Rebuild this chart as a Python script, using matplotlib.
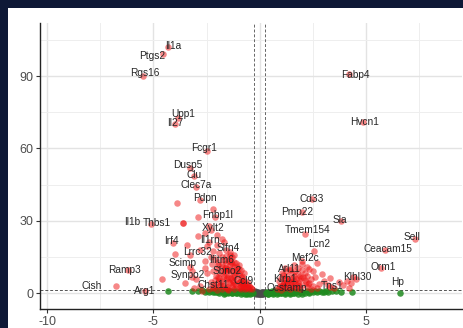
import matplotlib
matplotlib.use("Agg")
import matplotlib.pyplot as plt
from matplotlib.patches import Rectangle
from matplotlib.ticker import MultipleLocator

plt.rcParams["font.family"] = ["Liberation Sans", "DejaVu Sans"]

# ---------------- data ----------------
genes = ["Il1a", "Ptgs2", "Rgs16", "Upp1", "Il27", "Fcgr1", "Dusp5", "Clu", "Clec7a",
         "Pdpn", "Fnbp1l", "Xylt2", "Il1b", "Thbs1", "Irf4", "Il1rn", "Slfn4", "Lrrc32",
         "Scimp", "Ifitm6", "Ramp3", "Cish", "Arg1", "Synpo2", "Sbno2", "Ccl9", "Chst11",
         "Fabp4", "Hvcn1", "Cd33", "Pmp22", "Sla", "Tmem154", "Lcn2", "Sell", "Ceacam15",
         "Orm1", "Klhl30", "Hp", "Mef2c", "Arl11", "Klrb1", "Ocstamp", "Tns1"]
gene_fc = [-4.3, -4.55, -5.5, -3.85, -4.0, -2.5, -3.3, -3.1, -3.0,
           -2.8, -2.1, -2.3, -5.1, -3.6, -4.1, -2.4, -1.6, -3.3,
           -3.3, -1.8, -6.2, -6.75, -5.4, -3.2, -1.6, -0.8, -2.2,
           4.2, 4.85, 2.45, 2.0, 3.8, 2.1, 2.55, 7.3, 5.9,
           5.7, 4.53, 6.6, 2.0, 1.4, 1.2, 1.2, 3.3]
gene_p = [102, 99, 90, 72.5, 70, 59, 52, 48.5, 44,
          38.5, 31.5, 26, 28.5, 29, 20.7, 21, 18, 16,
          11, 12, 9.5, 2.9, 0.8, 6.5, 9.5, 5, 3.3,
          90.9, 71, 39, 33.5, 30, 24.5, 17.4, 22.5, 18,
          10.5, 5.8, 0.1, 13.5, 9.5, 6.2, 2.5, 2.5]
gene_sig = [1, 1, 1, 1, 1, 1, 1, 1, 1,
            1, 1, 1, 1, 1, 1, 1, 1, 1,
            1, 1, 1, 1, 1, 1, 1, 1, 1,
            1, 1, 1, 1, 1, 1, 1, 1, 1,
            1, 1, 0, 1, 1, 1, 1, 1]
# label placement (layout)
lab_x = [-4.06, -5.05, -5.42, -3.58, -3.96, -2.6, -3.4, -3.1, -2.97,
         -2.6, -1.98, -2.2, -6.0, -4.86, -4.15, -2.36, -1.5, -2.95,
         -3.65, -1.8, -6.37, -7.9, -5.42, -3.4, -1.55, -0.75, -2.2,
         4.48, 4.9, 2.45, 1.75, 3.77, 2.26, 2.78, 7.17, 6.04,
         5.8, 4.58, 6.46, 2.1, 1.4, 1.2, 1.25, 3.4]
lab_y = [102.5, 98.3, 91.3, 74.3, 70.5, 60.2, 53.1, 49, 44.8,
         39.4, 32.4, 27, 29.5, 29, 21.6, 22, 18.7, 16.9,
         12.4, 13.6, 9.5, 2.9, 0.8, 7.5, 9.0, 5, 3.3,
         90.5, 71, 39, 33.6, 30.3, 26.1, 20.3, 23.2, 18.3,
         10.8, 6.6, 4.6, 14.5, 10.0, 5.9, 2.2, 2.9]

red_fc = [-2.4, -2.2, -2.0, -1.9, -1.8, -1.7, -1.6, -1.5, -1.4, -1.3, -1.2, -1.1, -1.0, -0.9, -0.8, -0.7, -0.6, -0.5, -0.4, -0.35,
          -2.3, -2.1, -2.0, -1.9, -1.8, -1.7, -1.6, -1.5, -1.4, -1.3, -1.2, -1.1, -1.0, -0.9, -0.8, -0.7, -0.6, -0.5,
          -2.5, -2.2, -2.0, -1.9, -1.8, -1.7, -1.6, -1.5, -1.4, -1.3, -1.2, -1.1, -1.0, -0.9, -0.8, -0.7,
          -2.6, -2.3, -2.1, -1.9, -1.8, -1.6, -1.5, -1.4, -1.3, -1.2, -1.0, -0.9,
          -2.8, -2.5, -2.2, -2.0, -1.7, -1.4, -1.2,
          -2.9, -2.6, -2.4, -2.0, -1.8,
          -3.0, -2.8, -2.6, -3.2, -3.5, -3.1, -2.7, -3.9, -4.6, -3.6, -4.0, -2.9, -3.4, -2.2,
          -1.75, -1.45, -1.15, -0.85, -1.95, -1.65, -1.35, -1.05,
          -2.15, -1.85, -1.55, -1.25, -0.95, -0.65, -2.05, -1.75, -1.45, -1.15, -0.85, -0.55,
          -1.95, -1.65, -1.35, -1.05, -0.75, -1.85, -1.55, -1.25, -0.95, -1.7, -1.4, -1.1,
          -2.25, -1.95, -1.6, -1.3, -1.0, -0.75, -0.45, -1.5, -1.2, -0.9,
          0.8, 0.9, 1.0, 1.1, 1.2, 1.3, 1.4, 1.5, 1.6, 1.7, 1.8, 1.9, 2.0, 2.1, 2.2, 2.3, 2.4, 2.5, 2.6, 2.7,
          0.9, 1.0, 1.1, 1.2, 1.3, 1.4, 1.5, 1.6, 1.7, 1.8, 1.9, 2.0, 2.1, 2.2, 2.3, 2.4,
          1.2, 1.4, 1.6, 1.8, 2.0, 2.2, 2.5, 2.7, 2.9, 3.0, 3.2, 3.5, 3.3, 2.8,
          3.9, 4.1, 4.3, 4.4, 4.2, 3.7,
          1.05, 1.25, 1.45, 1.65, 1.85, 1.15, 1.35, 1.55,
          0.95, 1.15, 1.35, 1.55, 1.75, 1.95, 2.15, 1.05, 1.25, 1.45, 1.65, 1.85, 2.05, 2.25]
red_p = [1.5, 2.0, 1.2, 2.8, 1.6, 3.5, 2.2, 1.4, 4.0, 2.6, 1.8, 3.2, 2.1, 1.5, 2.9, 1.7, 2.4, 1.6, 2.0, 1.5,
         4.5, 5.5, 4.0, 6.2, 5.0, 7.0, 5.8, 6.8, 8.0, 5.5, 7.5, 6.0, 4.8, 5.2, 4.2, 3.8, 3.2, 2.8,
         8.5, 9.0, 10.5, 8.8, 11.0, 9.5, 12.5, 10.0, 11.8, 9.0, 10.8, 8.5, 7.8, 6.8, 6.0, 5.2,
         13.5, 15.0, 14.0, 16.5, 14.8, 15.5, 13.2, 14.2, 12.0, 13.0, 11.5, 9.5,
         18.0, 19.5, 17.5, 20.0, 21.0, 17.0, 16.0,
         23.5, 25.0, 28.0, 24.0, 22.5,
         6.0, 3.0, 10.5, 9.0, 4.0, 2.0, 1.0, 37.3, 5.8, 29.0, 16.2, 31.5, 20.0, 35.0,
         3.0, 4.5, 3.6, 3.8, 6.5, 8.8, 6.4, 9.2,
         2.4, 3.3, 2.5, 3.4, 2.6, 2.2, 7.2, 7.9, 9.4, 9.6, 7.0, 4.0,
         11.8, 10.6, 12.8, 11.0, 8.4, 5.2, 6.1, 4.9, 4.6, 13.8, 16.0, 12.4,
         12.0, 13.0, 10.2, 15.0, 9.8, 3.0, 2.4, 1.8, 6.6, 2.4,
         1.5, 2.5, 1.2, 3.5, 2.0, 4.5, 1.8, 3.0, 5.0, 2.2, 4.0, 1.6, 3.2, 5.5, 2.5, 4.2, 1.9, 3.0, 6.5, 2.0,
         5.0, 6.2, 7.5, 5.8, 7.0, 6.0, 8.5, 7.2, 6.0, 8.0, 7.0, 9.5, 8.2, 7.0, 10.0, 6.0,
         10.5, 9.8, 11.5, 10.5, 12.0, 11.0, 9.0, 12.5, 8.0, 5.0, 3.5, 2.0, 6.2, 3.8,
         3.5, 5.2, 4.0, 6.8, 2.3, 4.5,
         2.8, 3.9, 4.8, 3.6, 5.6, 4.3, 5.1, 2.6,
         3.0, 4.2, 2.6, 6.4, 3.4, 6.2, 4.6, 8.2, 9.0, 4.0, 9.2, 2.8, 6.8, 3.6]

green_fc = [-4.3, -3.2, -2.9, -2.7, -2.6, -2.5, -2.4, -2.3, -2.2, -2.15, -2.1, -2.05, -2.0, -1.95, -1.9, -1.85,
            -1.8, -1.75, -1.7, -1.65, -1.6, -1.55, -1.5, -1.45, -1.4, -1.35, -1.3, -1.25, -1.2, -1.15, -1.1,
            -1.05, -1.0, -0.95, -0.9, -0.85, -0.8, -0.75, -0.7, -0.65, -0.6, -0.55, -0.5, -0.45, -0.4,
            -0.35, -0.3, -1.7, -1.3, -0.9, -0.6, -1.5, -1.1, -0.7, -0.45,
            0.3, 0.35, 0.4, 0.45, 0.5, 0.55, 0.6, 0.65, 0.7, 0.75, 0.8, 0.85, 0.9, 0.95, 1.0, 1.05,
            1.1, 1.15, 1.2, 1.25, 1.3, 1.35, 1.4, 1.45, 1.5, 1.55, 1.6, 1.7, 1.8, 1.9, 2.0, 2.1,
            2.2, 2.3, 2.4, 2.5, 2.6, 2.7, 2.8, 2.9, 3.0, 3.1, 3.2, 3.4, 3.6, 3.8, 4.35,
            0.4, 0.6, 0.8, 1.0, 1.2, 1.4, 1.6, 1.8, 2.0, 2.3]
green_p = [0.8, 0.9, 0.7, 1.1, 0.5, 0.9, 0.6, 1.0, 0.4, 0.8, 0.3, 1.1, 0.6, 0.9, 0.2, 0.7,
           1.0, 0.4, 0.8, 0.1, 0.6, 1.0, 0.3, 0.7, 0.5, 0.9, 0.2, 0.6, 1.0, 0.4, 0.8,
           0.1, 0.5, 0.9, 0.3, 0.7, 0.0, 0.4, 0.8, 0.2, 0.6, 0.0, 0.3, 0.7, 0.1,
           0.5, 0.2, -0.2, -0.1, -0.3, -0.2, 0.0, -0.1, -0.2, -0.3,
           0.1, 0.4, -0.2, 0.6, 0.2, 0.9, 0.0, 0.5, 0.8, 0.3, 1.0, 0.1, 0.6, 0.9, 0.2, 0.7,
           0.4, 1.0, 0.0, 0.6, 0.3, 0.8, 0.1, 0.5, 0.9, 0.2, 0.7, 0.4, 1.0, 0.3, 0.6, 0.2,
           0.8, 0.5, 0.9, 0.3, 0.7, 0.4, 1.0, 0.6, 0.5, 0.8, 0.4, 0.7, 0.9, 0.6, 0.4,
           -0.3, -0.2, -0.3, -0.1, -0.3, -0.2, -0.1, -0.3, -0.2, -0.1]

grey_fc = [-0.25, -0.22, -0.2, -0.18, -0.15, -0.12, -0.1, -0.08, -0.05, -0.02, 0.0, 0.02, 0.05, 0.08,
           0.1, 0.12, 0.15, 0.18, 0.2, 0.22, 0.25, -0.16, -0.06, 0.04, 0.14, 0.24, -0.24, -0.1, 0.1]
grey_p = [0.4, 0.1, 0.6, 0.2, 0.0, 0.3, -0.2, 0.1, -0.3, 0.0, -0.4, -0.1, 0.2, -0.2,
          0.0, 0.3, -0.1, 0.2, 0.5, 0.1, 0.3, -0.3, -0.1, -0.3, -0.2, 0.0, 0.8, 0.5, 0.6]

x_ticks = [-10, -5, 0, 5]
x_tick_labels = ["-10", "-5", "0", "5"]
y_ticks = [0, 30, 60, 90]
y_tick_labels = ["0", "30", "60", "90"]
fc_cut = 0.263
p_cut = 1.3

# ---------------- figure ----------------
W, H = 464, 328
fig = plt.figure(figsize=(W / 100, H / 100), dpi=100)
fig.patch.set_facecolor("#0e1836")
fig.patches.append(Rectangle((8 / W, 0), 1, (H - 8) / H, transform=fig.transFigure,
                             facecolor="white", edgecolor="none", zorder=-10))

ax = fig.add_axes([40 / W, 1 - 309 / H, (462 - 40) / W, (309 - 23) / H])
ax.set_zorder(5)
ax.set_facecolor("white")
ax.set_xlim(-10.33, 9.5)
ax.set_ylim(-6.6, 112)

ax.xaxis.set_minor_locator(MultipleLocator(2.5))
ax.yaxis.set_minor_locator(MultipleLocator(15))
ax.set_xticks(x_ticks)
ax.set_xticklabels(x_tick_labels)
ax.set_yticks(y_ticks)
ax.set_yticklabels(y_tick_labels)
ax.grid(True, which="major", color="#e3e3e3", lw=1.0, zorder=0)
ax.grid(True, which="minor", color="#eeeeee", lw=0.7, zorder=0)
ax.set_axisbelow(True)
ax.tick_params(which="minor", length=0)
ax.tick_params(which="major", length=3, width=0.8, color="#333333", labelsize=9,
               labelcolor="#4d4d4d", pad=2)
for s in ["top", "right"]:
    ax.spines[s].set_visible(False)
for s in ["left", "bottom"]:
    ax.spines[s].set_color("#222222")
    ax.spines[s].set_linewidth(1.0)

ax.axvline(-fc_cut, color="#666666", ls=(0, (3, 2)), lw=0.7, zorder=1)
ax.axvline(fc_cut, color="#666666", ls=(0, (3, 2)), lw=0.7, zorder=1)
ax.axhline(p_cut, color="#555555", ls=(0, (3, 2)), lw=0.7, zorder=1)

ms = 22
ax.scatter(grey_fc, grey_p, s=ms, color="#4a4a4a", alpha=0.8, lw=0, zorder=2)
ax.scatter(green_fc, green_p, s=ms, color="#1f8a1f", alpha=0.85, lw=0, zorder=2)
ax.scatter(red_fc, red_p, s=ms, color="#ee1111", alpha=0.5, lw=0, zorder=3)

for g, x, y, sig, tx, ty in zip(genes, gene_fc, gene_p, gene_sig, lab_x, lab_y):
    col = "#ee1111" if sig else "#1f8a1f"
    ax.scatter([x], [y], s=ms, color=col, alpha=0.5 if sig else 0.85, lw=0, zorder=3)
    ax.text(tx, ty, g, fontsize=7.3, color="#262626", ha="center", va="center", zorder=4)

fig.savefig("out.png", dpi=100, facecolor=fig.get_facecolor())
